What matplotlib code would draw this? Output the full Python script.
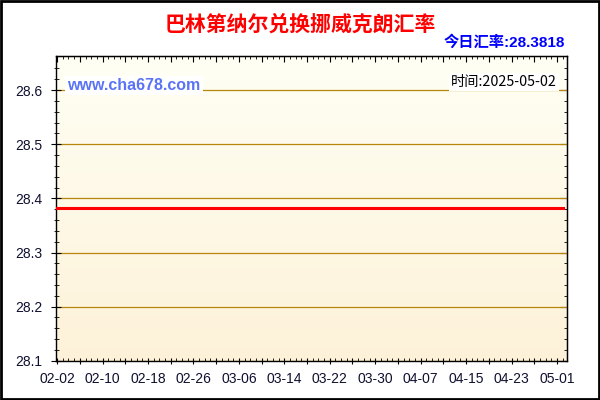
import matplotlib.pyplot as plt
import matplotlib.dates as mdates
from matplotlib.colors import LinearSegmentedColormap
from matplotlib.patches import Rectangle
import numpy as np
import pandas as pd

plt.rcParams['font.family'] = ['Liberation Sans', 'Noto Sans CJK SC', 'DejaVu Sans']

# chart data
title = '巴林第纳尔兑换挪威克朗汇率'
today_rate = '28.3818'
update_date = '2025-05-02'
dates = ['2025-02-02', '2025-05-02']
rates = [28.3818, 28.3818]
y_ticks = [28.1, 28.2, 28.3, 28.4, 28.5, 28.6]
watermark = 'www.cha678.com'

x = pd.to_datetime(dates)
start = mdates.date2num(x[0])

fig = plt.figure(figsize=(6, 4), dpi=100)
ax = fig.add_axes([0.0933, 0.098, 0.852, 0.762])

x0, x1 = start - 0.2, start + 89.8
y0, y1 = 28.1, 28.663

# soft yellow gradient background
cmap = LinearSegmentedColormap.from_list('bg', ['#FDF2D9', '#FFFFF4'])
grad = np.linspace(0, 1, 256).reshape(-1, 1)
ax.imshow(grad, extent=[x0, x1, y0, y1], aspect='auto', origin='lower',
          cmap=cmap, zorder=0)

for yv in y_ticks:
    ax.axhline(yv, color='#B8860B', lw=0.9, zorder=1)

ax.plot(x, rates, color='#FF0000', lw=2.2, zorder=3)

ax.set_xlim(x0, x1)
ax.set_ylim(y0, y1)

# x ticks: major every 4 days, label every 8 days, minor daily
major = pd.date_range(x[0], x[-1], freq='4D')
ax.set_xticks(mdates.date2num(major))
ax.set_xticklabels([d.strftime('%m-%d') if i % 2 == 0 else '' for i, d in enumerate(major)])
ax.xaxis.set_minor_locator(mdates.DayLocator())
ax.set_yticks(y_ticks)
ax.set_yticklabels([f'{v:.1f}' for v in y_ticks])
ax.set_yticks(np.arange(28.1, 28.66, 0.02), minor=True)

ax.tick_params(axis='x', which='major', direction='inout', length=4.5, pad=5.5,
               labelsize=10, labelcolor='#101030')
ax.tick_params(axis='x', which='minor', direction='in', length=2.2)
ax.tick_params(axis='y', which='major', direction='inout', length=7, pad=6.5,
               labelsize=10, labelcolor='#101030')
ax.tick_params(axis='y', which='minor', direction='inout', length=3.6)

top = ax.secondary_xaxis('top')
top.set_xticks(mdates.date2num(major))
top.xaxis.set_minor_locator(mdates.DayLocator())
top.tick_params(which='both', direction='in', labeltop=False)
top.tick_params(which='major', length=4)
top.tick_params(which='minor', length=2.2)

right = ax.secondary_yaxis('right')
right.set_yticks(y_ticks)
right.set_yticks(np.arange(28.1, 28.66, 0.02), minor=True)
right.tick_params(which='both', direction='in', labelright=False)
right.tick_params(which='major', length=5)
right.tick_params(which='minor', length=2.5)

for s in ax.spines.values():
    s.set_linewidth(1)

# texts
fig.text(0.5, 0.94, title, ha='center', va='center', fontsize=15,
         fontweight='bold', color='#FF0000', family=['Noto Sans CJK SC'])
fig.text(0.942, 0.893, '今日汇率:' + today_rate, ha='right', va='center',
         fontsize=11, fontweight='bold', color='#0000FF',
         family=['Liberation Sans', 'Noto Sans CJK SC'])
ax.text(0.022, 0.904, watermark, transform=ax.transAxes, ha='left', va='center',
        fontsize=11.5, fontweight='bold', color='#5B73F5', zorder=4,
        bbox=dict(facecolor='white', edgecolor='none', pad=1.5))
ax.text(0.98, 0.914, '时间:' + update_date, transform=ax.transAxes, ha='right',
        va='center', fontsize=10.3, color='#000000', zorder=4,
        family=['Noto Sans CJK SC'],
        bbox=dict(facecolor='white', edgecolor='none', pad=1.5))

# outer frame
fig.patches.append(Rectangle((0.002, 0.003), 0.996, 0.994, transform=fig.transFigure,
                             fill=False, edgecolor='black', lw=2))

fig.savefig('out.png', dpi=100)
